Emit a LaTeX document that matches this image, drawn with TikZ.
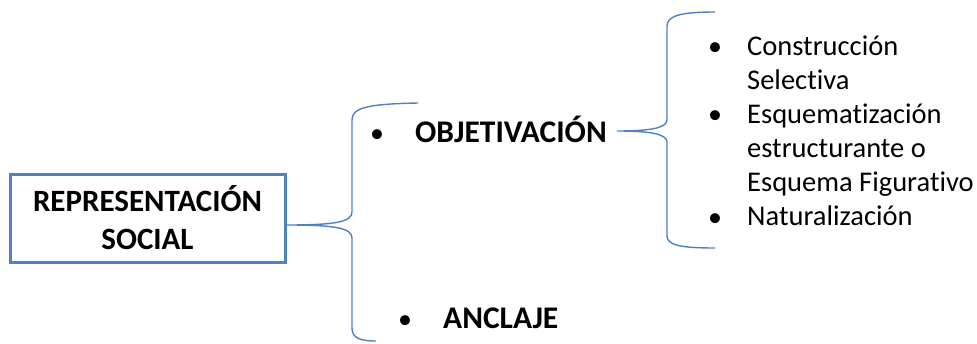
\documentclass[tikz,border=0pt]{standalone}
\usepackage{fontspec}
\setmainfont[Ligatures=NoCommon]{Carlito}
\usepackage{tikz}

\definecolor{azul}{RGB}{79,129,189}

\begin{document}
\begin{tikzpicture}[x=1pt,y=-1pt,
  caja/.style={draw=azul,line width=3pt,minimum width=275pt,minimum height=88pt,
    align=center,inner sep=0pt,font=\bfseries\fontsize{31}{38}\selectfont},
  titulo/.style={anchor=base west,inner sep=0pt,font=\bfseries\fontsize{31.5}{34}\selectfont},
  punto/.style={anchor=base,inner sep=0pt,font=\fontsize{28}{34}\selectfont},
  llave/.style={draw=azul,line width=1.4pt}]
  \useasboundingbox (0,0) rectangle (977,343);
  % caja principal
  \node[caja] (rep) at (147.5,218) {REPRESENTACIÓN\\SOCIAL};
  % primer nivel
  \node[punto] (p1) at (377,142) {•};
  \node[titulo] (obj) at (415,142) {OBJETIVACIÓN};
  \node[punto] (p2) at (405,328) {•};
  \node[titulo] (anc) at (443,328) {ANCLAJE};
  % segundo nivel
  \node[punto] (q1) at (715,55) {•};
  \node[punto] (q2) at (715,123) {•};
  \node[punto] (q3) at (715,226) {•};
  \node[anchor=north west,inner sep=0pt,font=\fontsize{28.5}{34}\selectfont] (lista) at (747,31.2)
    {\begin{tabular}{@{}l@{}}
      Construcción\\ Selectiva\\ Esquematización\\ estructurante o\\
      Esquema Figurativo\\ Naturalización
    \end{tabular}};
  % llaves
  \coordinate (punta1) at (287,225);
  \coordinate (arriba1) at (418,103);
  \coordinate (abajo1) at (376,341);
  \draw[llave] (arriba1) .. controls (366,104) and (352,108) .. (352,120) -- (352,212)
    .. controls (352,222) and (335,225) .. (punta1)
    .. controls (335,225) and (352,228) .. (352,238) -- (352,328)
    .. controls (352,338) and (360,341) .. (abajo1);
  \coordinate (punta2) at (617,131);
  \coordinate (arriba2) at (715,12);
  \coordinate (abajo2) at (715,248);
  \draw[llave] (arriba2) .. controls (680,12) and (667,16) .. (667,26) -- (667,120)
    .. controls (667,128) and (650,131) .. (punta2)
    .. controls (650,131) and (667,134) .. (667,142) -- (667,236)
    .. controls (667,245) and (680,248) .. (abajo2);
\end{tikzpicture}
\end{document}
